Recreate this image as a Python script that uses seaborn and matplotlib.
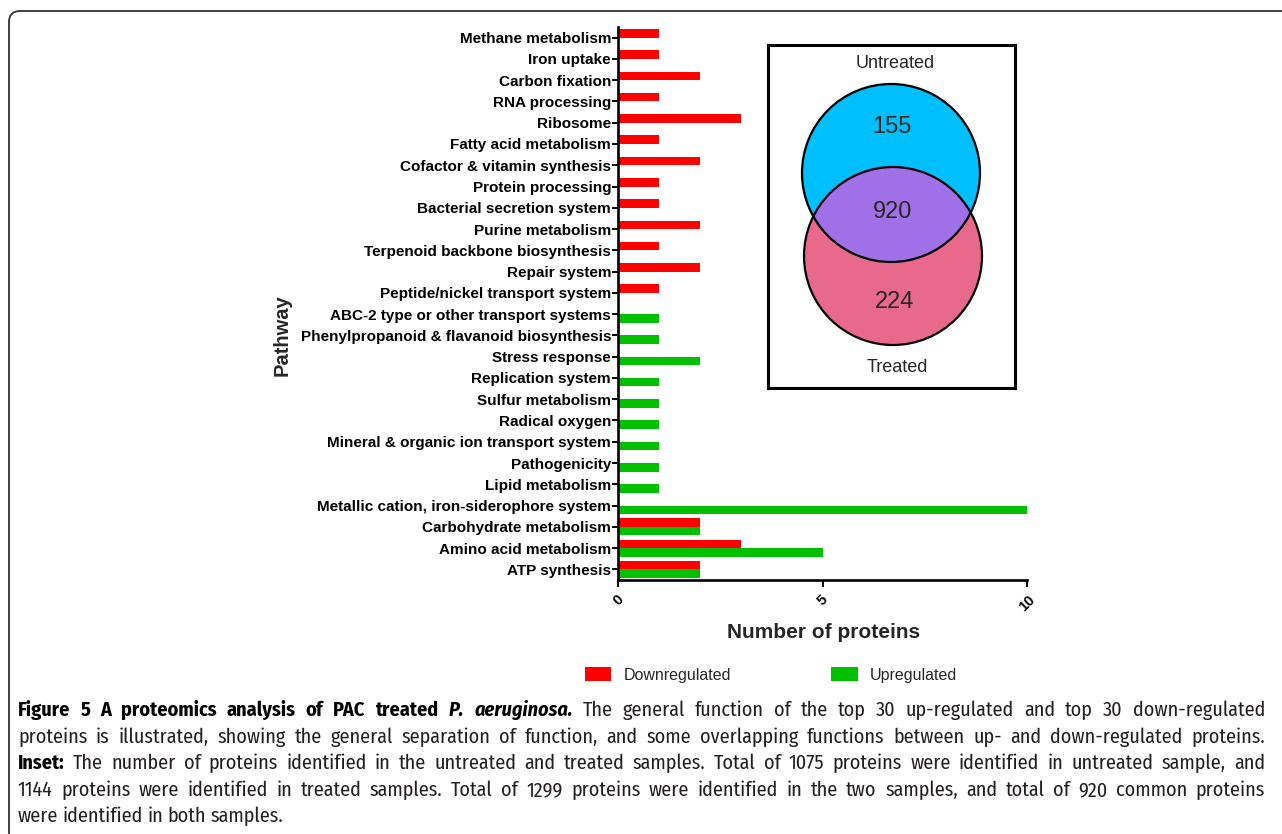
import numpy as np
import pandas as pd
import matplotlib
matplotlib.use("Agg")
import matplotlib.pyplot as plt
import seaborn as sns
from matplotlib import font_manager
from matplotlib.patches import Circle, FancyBboxPatch
from matplotlib.transforms import IdentityTransform

# Pathways, top to bottom as in the figure
pathways = [
    "Methane metabolism", "Iron uptake", "Carbon fixation", "RNA processing",
    "Ribosome", "Fatty acid metabolism", "Cofactor & vitamin synthesis",
    "Protein processing", "Bacterial secretion system", "Purine metabolism",
    "Terpenoid backbone biosynthesis", "Repair system",
    "Peptide/nickel transport system", "ABC-2 type or other transport systems",
    "Phenylpropanoid & flavanoid biosynthesis", "Stress response",
    "Replication system", "Sulfur metabolism", "Radical oxygen",
    "Mineral & organic ion transport system", "Pathogenicity",
    "Lipid metabolism", "Metallic cation, iron-siderophore system",
    "Carbohydrate metabolism", "Amino acid metabolism", "ATP synthesis",
]
down_counts = [1, 1, 2, 1, 3, 1, 2, 1, 1, 2, 1, 2, 1,
               0, 0, 0, 0, 0, 0, 0, 0, 0, 0, 2, 3, 2]
up_counts = [0, 0, 0, 0, 0, 0, 0, 0, 0, 0, 0, 0, 0,
             1, 1, 2, 1, 1, 1, 1, 1, 1, 10, 2, 5, 2]
directions = ["Downregulated", "Upregulated"]
bar_colors = ["#ff0000", "#00c000"]
x_ticks = [0, 5, 10]

# Venn inset
venn_sets = ["Untreated", "Treated"]
venn_counts = [155, 920, 224]   # untreated only, both, treated only
venn_colors = ["#00bfff", "#a070e8", "#e8698c"]

# Caption
caption_lines = [
    [("Figure 5 A proteomics analysis of PAC treated ", "b"), ("P. aeruginosa.", "bi"),
     (" The general function of the top 30 up-regulated and top 30 down-regulated", "r")],
    [("proteins is illustrated, showing the general separation of function, and some "
      "overlapping functions between up- and down-regulated proteins.", "r")],
    [("Inset:", "b"), (" The number of proteins identified in the untreated and treated samples. "
      "Total of 1075 proteins were identified in untreated sample, and", "r")],
    [("1144 proteins were identified in treated samples. Total of 1299 proteins were "
      "identified in the two samples, and total of 920 common proteins", "r")],
    [("were identified in both samples.", "r")],
]

# long format for seaborn
n = len(pathways)
df = pd.DataFrame({
    "Pathway": pathways * 2,
    "Direction": [directions[0]] * n + [directions[1]] * n,
    "Count": down_counts + up_counts,
})
df = df[df["Count"] > 0]

sns.set_theme(style="ticks")
plt.rcParams["font.family"] = ["Liberation Sans", "DejaVu Sans"]

W, H = 1282, 834
fig = plt.figure(figsize=(W / 100, H / 100), dpi=100)
fig.patch.set_facecolor("white")

ax = fig.add_axes([618 / W, 1 - 580 / H, (1027 - 618) / W, (580 - 27) / H])
sns.barplot(data=df, y="Pathway", x="Count", hue="Direction", order=pathways,
            hue_order=directions, palette=bar_colors, saturation=1, errorbar=None,
            orient="h", width=0.8, dodge=True, linewidth=0, ax=ax)
ax.set_xlim(0, 10)
ax.set_xticks(x_ticks)
ax.set_xticklabels([str(t) for t in x_ticks], rotation=45, ha="center",
                   fontsize=10.5, fontweight="bold")
for lbl in ax.get_yticklabels():
    lbl.set_fontsize(11)
    lbl.set_fontweight("bold")
ax.set_xlabel("")
ax.set_ylabel("")
sns.despine(ax=ax)
for s in ["left", "bottom"]:
    ax.spines[s].set_linewidth(1.9)
    ax.spines[s].set_color("black")
ax.tick_params(axis="y", length=4, width=1.4, pad=1, colors="black")
ax.tick_params(axis="x", length=5, width=1.4, pad=4, colors="black")

fig.text(824 / W, 1 - 633 / H, "Number of proteins", ha="center", va="center",
         fontsize=15, fontweight="bold")
fig.text(282 / W, 1 - 335 / H, "Pathway", ha="center", va="center", rotation=90,
         fontsize=14.5, fontweight="bold")

handles, labels = ax.get_legend_handles_labels()
if ax.get_legend() is not None:
    ax.get_legend().remove()
fig.legend(handles, labels, loc="center", bbox_to_anchor=(771 / W, 1 - 675 / H),
           ncol=2, frameon=False, fontsize=11.5, handlelength=1.65, handleheight=1.0,
           handletextpad=0.75, columnspacing=6.3)

# Venn inset
vax = fig.add_axes([768 / W, 1 - 388 / H, 247 / W, 343 / H])
vax.set_xlim(0, 247)
vax.set_ylim(0, 343)
vax.set_xticks([])
vax.set_yticks([])
vax.set_facecolor("white")
for s in vax.spines.values():
    s.set_linewidth(2.2)
    s.set_color("black")
ca = (123, 215)
cb = (125, 132)
r = 89
vax.add_patch(Circle(ca, r, fc=venn_colors[0], ec="none"))
vax.add_patch(Circle(cb, r, fc=venn_colors[2], ec="none"))
overlap = Circle(ca, r, fc=venn_colors[1], ec="none")
vax.add_patch(overlap)
clip = Circle(cb, r, transform=vax.transData)
overlap.set_clip_path(clip)
vax.add_patch(Circle(ca, r, fill=False, ec="black", lw=1.6))
vax.add_patch(Circle(cb, r, fill=False, ec="black", lw=1.6))
vax.text(127, 325, venn_sets[0], ha="center", va="center", fontsize=13)
vax.text(129, 20, venn_sets[1], ha="center", va="center", fontsize=13)
vax.text(124, 261, str(venn_counts[0]), ha="center", va="center", fontsize=17)
vax.text(125, 176, str(venn_counts[1]), ha="center", va="center", fontsize=17)
vax.text(127, 86, str(venn_counts[2]), ha="center", va="center", fontsize=17)

# rounded frame around the figure
frame = FancyBboxPatch((9, -10), 1300, H - 11 + 10, boxstyle="round,pad=0,rounding_size=11",
                       transform=IdentityTransform(), fill=False, ec="#333333", lw=1.3)
fig.add_artist(frame)

# caption, justified, in a condensed face
names = {f.name for f in font_manager.fontManager.ttflist}
if "Fira Sans Condensed" in names:
    cap_family, cap_size = ["Fira Sans Condensed", "DejaVu Sans"], 14.5
else:
    cap_family, cap_size = ["DejaVu Sans", "Liberation Sans"], 12
styles = {"r": dict(fontweight="normal", fontstyle="normal", color="#231f20"),
          "b": dict(fontweight="bold", fontstyle="normal", color="#000000"),
          "bi": dict(fontweight="bold", fontstyle="italic", color="#000000")}

renderer = fig.canvas.get_renderer()
x_left, x_right = 18, 1265
line_y = [710, 737, 763, 790, 816]
for i, line in enumerate(caption_lines):
    words = []
    for txt, st in line:
        for w in txt.split():
            words.append((w, st))
    arts = []
    widths = []
    for w, st in words:
        t = fig.text(0, 0, w, family=cap_family, fontsize=cap_size, fontstretch="condensed",
                     ha="left", va="baseline", transform=IdentityTransform(), **styles[st])
        arts.append(t)
        widths.append(t.get_window_extent(renderer).width)
    space = cap_size * 0.3
    if i < len(caption_lines) - 1 and len(words) > 1:
        gap = (x_right - x_left - sum(widths)) / (len(words) - 1)
        gap = max(gap, space * 0.5)
    else:
        gap = space
    x = x_left
    yb = H - (line_y[i] + 6)
    for t, wd in zip(arts, widths):
        t.set_position((x, yb))
        x += wd + gap

fig.savefig("out.png", dpi=100)
